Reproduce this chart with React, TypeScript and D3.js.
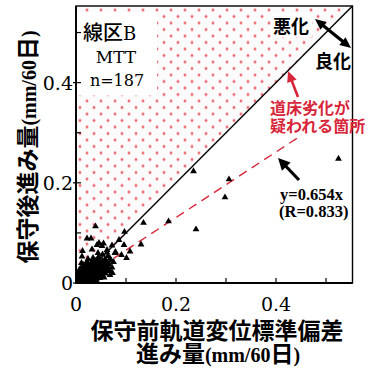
import React from 'react';
import * as d3 from 'd3';

// ---------- data ----------
const xMajorTicks = [0, 0.2, 0.4];
const xMinorTicks = [0.1, 0.3, 0.5];
const yMajorTicks = [0, 0.2, 0.4];
const yMinorTicks = [0.1, 0.3, 0.5];
const tickLabels = ['0', '0.2', '0.4'];

const outlierPoints: [number, number][] = [
  [0.525, 0.248], [0.235, 0.223], [0.306, 0.207], [0.298, 0.171], [0.185, 0.123], [0.240, 0.107],
  [0.135, 0.120], [0.130, 0.077], [0.108, 0.063], [0.101, 0.050], [0.097, 0.102], [0.096, 0.076],
  [0.086, 0.086], [0.072, 0.075], [0.062, 0.066], [0.091, 0.056], [0.068, 0.016], [0.068, 0.024],
  [0.039, 0.113], [0.022, 0.089], [0.030, 0.089], [0.046, 0.080], [0.055, 0.079], [0.042, 0.076],
  [0.013, 0.064], [0.032, 0.067], [0.012, 0.053], [0.068, 0.049], [0.065, 0.030], [0.058, 0.037],
  [0.052, 0.074], [0.078, 0.060],
];

const clusterPoints: [number, number][] = [
  [0.002, 0.001], [0.003, 0.004], [0.004, 0.002], [0.005, 0.006], [0.006, 0.003], [0.007, 0.008],
  [0.008, 0.005], [0.009, 0.002], [0.001, 0.005], [0.002, 0.008], [0.004, 0.010], [0.006, 0.012],
  [0.008, 0.014], [0.009, 0.010], [0.003, 0.013], [0.005, 0.016], [0.007, 0.019], [0.010, 0.007],
  [0.001, 0.002], [0.003, 0.007],
  [0.011, 0.004], [0.012, 0.009], [0.013, 0.014], [0.014, 0.006], [0.015, 0.011], [0.016, 0.018],
  [0.017, 0.003], [0.018, 0.013], [0.019, 0.008], [0.020, 0.016], [0.011, 0.020], [0.013, 0.024],
  [0.015, 0.028], [0.012, 0.033], [0.016, 0.022], [0.018, 0.026], [0.019, 0.020], [0.014, 0.017],
  [0.017, 0.010], [0.020, 0.004], [0.010, 0.027], [0.011, 0.040], [0.015, 0.036], [0.019, 0.031],
  [0.021, 0.010], [0.022, 0.018], [0.023, 0.006], [0.024, 0.022], [0.025, 0.013], [0.026, 0.027],
  [0.027, 0.017], [0.028, 0.008], [0.029, 0.024], [0.030, 0.014], [0.021, 0.028], [0.023, 0.033],
  [0.025, 0.038], [0.027, 0.031], [0.029, 0.036], [0.022, 0.043], [0.024, 0.048], [0.026, 0.020],
  [0.028, 0.029], [0.030, 0.021], [0.021, 0.003], [0.024, 0.002], [0.027, 0.005],
  [0.031, 0.009], [0.032, 0.018], [0.033, 0.027], [0.034, 0.012], [0.035, 0.022], [0.036, 0.032],
  [0.037, 0.016], [0.038, 0.026], [0.039, 0.006], [0.040, 0.020], [0.031, 0.038], [0.033, 0.044],
  [0.035, 0.040], [0.037, 0.035], [0.039, 0.030], [0.032, 0.003], [0.036, 0.008], [0.034, 0.050],
  [0.038, 0.045], [0.040, 0.013],
  [0.041, 0.024], [0.042, 0.031], [0.043, 0.015], [0.044, 0.038], [0.045, 0.027], [0.046, 0.020],
  [0.047, 0.034], [0.048, 0.010], [0.049, 0.041], [0.050, 0.029], [0.042, 0.046], [0.045, 0.052],
  [0.041, 0.007], [0.047, 0.023], [0.044, 0.060], [0.048, 0.017],
  [0.051, 0.035], [0.052, 0.022], [0.053, 0.044], [0.054, 0.014], [0.055, 0.031], [0.056, 0.040],
  [0.057, 0.026], [0.058, 0.048], [0.059, 0.019], [0.060, 0.033], [0.053, 0.057], [0.056, 0.011],
  [0.061, 0.042], [0.063, 0.026], [0.064, 0.054], [0.066, 0.038], [0.070, 0.045], [0.072, 0.031],
  [0.075, 0.042], [0.079, 0.062], [0.073, 0.020], [0.062, 0.061],
  [0.002, 0.011], [0.004, 0.005], [0.006, 0.001], [0.008, 0.017], [0.010, 0.013], [0.012, 0.002],
  [0.014, 0.021], [0.016, 0.007], [0.018, 0.017], [0.020, 0.011], [0.022, 0.024], [0.024, 0.015],
  [0.026, 0.009], [0.028, 0.019], [0.030, 0.030], [0.032, 0.024], [0.034, 0.017], [0.036, 0.027],
  [0.038, 0.019], [0.040, 0.035], [0.009, 0.023], [0.013, 0.029], [0.017, 0.034], [0.021, 0.037],
  [0.005, 0.021], [0.007, 0.027], [0.003, 0.018], [0.046, 0.032], [0.050, 0.021], [0.054, 0.036],
];

const fitSlope = 0.654;
const fitXRange = [0, 0.452];
const axisMax = 0.553;

// ---------- style ----------
const RED = '#d7263a';
const CJK = '"Noto Sans CJK JP", "Noto Sans", sans-serif';
const SERIF = '"DejaVu Serif", serif';
const TSERIF = '"Liberation Serif", serif';

const W = 373;
const H = 370;
const L = 76, R = 352.5, T = 6, B = 283;

function arrowHead(x1: number, y1: number, x2: number, y2: number, len: number, wid: number) {
  const a = Math.atan2(y2 - y1, x2 - x1);
  const bx = x2 - len * Math.cos(a), by = y2 - len * Math.sin(a);
  const px = -Math.sin(a) * wid / 2, py = Math.cos(a) * wid / 2;
  return `M${x2},${y2}L${bx + px},${by + py}L${bx - px},${by - py}Z`;
}
function shaftEnd(x1: number, y1: number, x2: number, y2: number, back: number): [number, number] {
  const a = Math.atan2(y2 - y1, x2 - x1);
  return [x2 - back * Math.cos(a), y2 - back * Math.sin(a)];
}

export default function App() {
  const x = d3.scaleLinear().domain([0, axisMax]).range([L, R]);
  const y = d3.scaleLinear().domain([0, axisMax]).range([B, T]);
  const tri = d3.symbol().type(d3.symbolTriangle).size(20)() as string;
  const allPts = [...outlierPoints, ...clusterPoints];

  const upperTri = `M${x(0)},${y(0)}L${x(axisMax)},${y(axisMax)}L${x(0)},${y(axisMax)}Z`;

  const da = { x1: 315, y1: 19, x2: 351, y2: 48 };
  const daS = shaftEnd(da.x1, da.y1, da.x2, da.y2, 8);
  const daS0 = shaftEnd(da.x2, da.y2, da.x1, da.y1, 8);
  const ra = { x1: 298, y1: 97, x2: 288, y2: 71 };
  const raS = shaftEnd(ra.x1, ra.y1, ra.x2, ra.y2, 8);
  const ba = { x1: 299, y1: 180, x2: 278, y2: 158 };
  const baS = shaftEnd(ba.x1, ba.y1, ba.x2, ba.y2, 9);

  return (
    <svg width={W} height={H} style={{ position: 'absolute', left: 0, top: 0, background: '#fff' }}>
      <defs>
        <radialGradient id="dotGrad">
          <stop offset="0%" stopColor="#de2a3a" />
          <stop offset="30%" stopColor="#e9636e" />
          <stop offset="65%" stopColor="#f7cdd1" />
          <stop offset="100%" stopColor="#ffffff" stopOpacity={0} />
        </radialGradient>
        <pattern id="dots" patternUnits="userSpaceOnUse" width={14} height={13} x={0} y={3.5}>
          <rect width={14} height={13} fill="#fcfbfb" />
          <circle cx={3} cy={6.5} r={2.4} fill="url(#dotGrad)" />
          <circle cx={10} cy={0} r={2.4} fill="url(#dotGrad)" />
          <circle cx={10} cy={13} r={2.4} fill="url(#dotGrad)" />
          <circle cx={-4} cy={0} r={2.4} fill="url(#dotGrad)" />
          <circle cx={-4} cy={13} r={2.4} fill="url(#dotGrad)" />
          <circle cx={17} cy={6.5} r={2.4} fill="url(#dotGrad)" />
        </pattern>
        <clipPath id="plotClip">
          <rect x={L} y={T} width={R - L} height={B - T} />
        </clipPath>
      </defs>

      <path d={upperTri} fill="url(#dots)" />
      <rect x={L} y={12.5} width={81} height={83} fill="#fff" />
      <rect x={271} y={13} width={41} height={24} fill="#fff" />

      <line x1={x(0)} y1={y(0)} x2={x(axisMax)} y2={y(axisMax)} stroke="#000" strokeWidth={1.4} />

      <line x1={x(fitXRange[0])} y1={y(fitSlope * fitXRange[0])} x2={x(fitXRange[1])} y2={y(fitSlope * fitXRange[1])}
        stroke={RED} strokeWidth={1.4} strokeDasharray="9,6" />

      <g clipPath="url(#plotClip)">
        {allPts.map((d, i) => (
          <path key={i} d={tri} transform={`translate(${x(d[0])},${y(d[1])})`} fill="#000" />
        ))}
      </g>

      <rect x={L} y={T} width={R - L} height={B - T} fill="none" stroke="#000" strokeWidth={1.4} />
      <line x1={L} y1={T} x2={L} y2={B + 0.7} stroke="#000" strokeWidth={1.8} />
      <line x1={L - 0.9} y1={B} x2={R} y2={B} stroke="#000" strokeWidth={1.8} />

      {[...xMajorTicks, ...xMinorTicks].map((t, i) => (
        <line key={'xt' + i} x1={x(t)} x2={x(t)} y1={B} y2={B - 5} stroke="#000" strokeWidth={1.2} />
      ))}
      {yMajorTicks.map((t, i) => (
        <line key={'ytM' + i} x1={L - 3} x2={L + 5} y1={y(t)} y2={y(t)} stroke="#000" strokeWidth={1.2} />
      ))}
      {yMinorTicks.map((t, i) => (
        <line key={'ytm' + i} x1={L} x2={L + 5} y1={y(t)} y2={y(t)} stroke="#000" strokeWidth={1.2} />
      ))}

      {xMajorTicks.map((t, i) => (
        <text key={'xl' + i} x={x(t)} y={311} textAnchor="middle" fontFamily={SERIF} fontSize={19}>{tickLabels[i]}</text>
      ))}
      {yMajorTicks.map((t, i) => (
        <text key={'yl' + i} x={73} y={y(t) + 7} textAnchor="end" fontFamily={SERIF} fontSize={19}>{tickLabels[i]}</text>
      ))}

      <text x={217} y={339} textAnchor="middle" fontFamily={CJK} fontWeight={700} fontSize={23}>保守前軌道変位標準偏差</text>
      <text x={218} y={362} textAnchor="middle" fontSize={23}>
        <tspan fontFamily={CJK} fontWeight={700}>進み量</tspan>
        <tspan fontFamily={TSERIF} fontWeight={700} fontSize={20}>(mm/60</tspan>
        <tspan fontFamily={CJK} fontWeight={700}>日</tspan>
        <tspan fontFamily={TSERIF} fontWeight={700} fontSize={20}>)</tspan>
      </text>
      <text transform="translate(36,147) rotate(-90)" textAnchor="middle" fontSize={23}>
        <tspan fontFamily={CJK} fontWeight={700}>保守後進み量</tspan>
        <tspan fontFamily={TSERIF} fontWeight={700} fontSize={20}>(mm/60</tspan>
        <tspan fontFamily={CJK} fontWeight={700}>日</tspan>
        <tspan fontFamily={TSERIF} fontWeight={700} fontSize={20}>)</tspan>
      </text>

      <text x={83} y={40} fontSize={20}>
        <tspan fontFamily={CJK} fontWeight={500}>線区</tspan>
        <tspan fontFamily={SERIF} fontSize={18}>B</tspan>
      </text>
      <text x={116} y={63} textAnchor="middle" fontFamily={SERIF} fontSize={17}>MTT</text>
      <text x={117} y={86} textAnchor="middle" fontFamily={SERIF} fontSize={16}>n=187</text>

      <text x={273} y={33} fontFamily={CJK} fontWeight={700} fontSize={18}>悪化</text>
      <text x={315} y={68} fontFamily={CJK} fontWeight={700} fontSize={18}>良化</text>
      <line x1={daS0[0]} y1={daS0[1]} x2={daS[0]} y2={daS[1]} stroke="#000" strokeWidth={3.2} />
      <path d={arrowHead(da.x1, da.y1, da.x2, da.y2, 11, 10)} fill="#000" />
      <path d={arrowHead(da.x2, da.y2, da.x1, da.y1, 11, 10)} fill="#000" />

      <line x1={ra.x1} y1={ra.y1} x2={raS[0]} y2={raS[1]} stroke={RED} strokeWidth={2.6} />
      <path d={arrowHead(ra.x1, ra.y1, ra.x2, ra.y2, 11, 10)} fill={RED} />
      <text x={270} y={114} fontFamily={CJK} fontWeight={700} fontSize={16} fill={RED}>道床劣化が</text>
      <text x={270} y={132} fontFamily={CJK} fontWeight={700} fontSize={16} fill={RED}>疑われる箇所</text>

      <line x1={ba.x1} y1={ba.y1} x2={baS[0]} y2={baS[1]} stroke="#000" strokeWidth={3.2} />
      <path d={arrowHead(ba.x1, ba.y1, ba.x2, ba.y2, 12, 12)} fill="#000" />
      <text x={280} y={200} fontFamily={TSERIF} fontWeight={700} fontSize={16.5}>y=0.654x</text>
      <text x={279} y={217} fontFamily={TSERIF} fontWeight={700} fontSize={16.5}>(R=0.833)</text>
    </svg>
  );
}
